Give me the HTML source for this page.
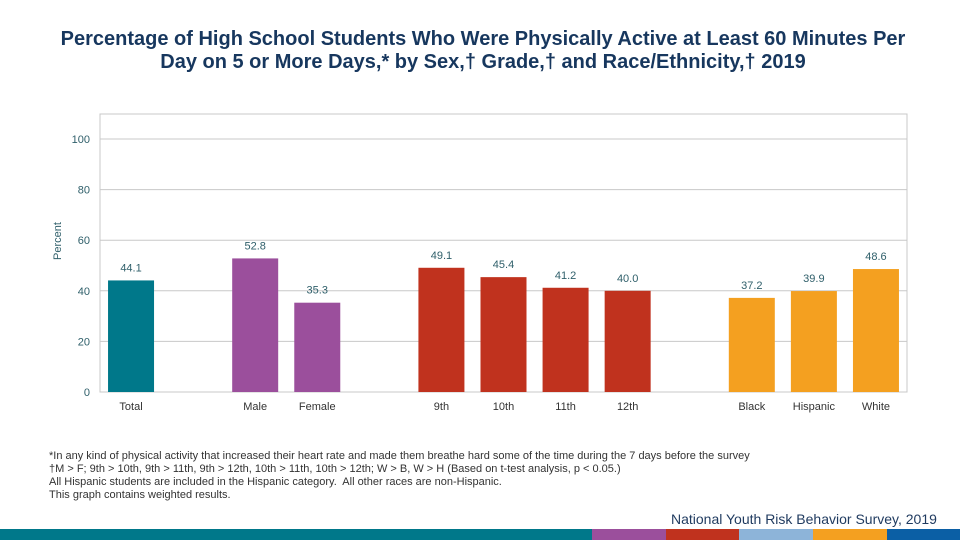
<!DOCTYPE html>
<html><head><meta charset="utf-8"><style>
body{margin:0;background:#fff;font-family:"Liberation Sans",sans-serif;}
#wrap{position:relative;width:960px;height:540px;overflow:hidden;}
.title{position:absolute;left:0;top:28px;width:966px;text-align:center;font-size:20px;font-weight:bold;line-height:23px;color:#17375e;}
.foot{position:absolute;left:49px;top:450px;font-size:11px;line-height:13px;color:#333;letter-spacing:0px;}
.src{position:absolute;left:671px;top:511px;font-size:14px;color:#1f3a5f;}
</style></head><body><div id="wrap">
<div class="title">Percentage of High School Students Who Were Physically Active at Least 60 Minutes Per<br>Day on 5 or More Days,* by Sex,† Grade,† and Race/Ethnicity,† 2019</div>
<svg id="chart" width="960" height="540" style="position:absolute;left:0;top:0"></svg>
<div class="foot">*In any kind of physical activity that increased their heart rate and made them breathe hard some of the time during the 7 days before the survey<br>†M &gt; F; 9th &gt; 10th, 9th &gt; 11th, 9th &gt; 12th, 10th &gt; 11th, 10th &gt; 12th; W &gt; B, W &gt; H (Based on t-test analysis, p &lt; 0.05.)<br>All Hispanic students are included in the Hispanic category.&nbsp; All other races are non-Hispanic.<br>This graph contains weighted results.</div>
<div class="src">National Youth Risk Behavior Survey, 2019</div>
</div>
<script>
const categories=["Total","","Male","Female","","9th","10th","11th","12th","","Black","Hispanic","White"];
const values=[44.1,null,52.8,35.3,null,49.1,45.4,41.2,40.0,null,37.2,39.9,48.6];
const colors=["#00788a","","#9b4f9c","#9b4f9c","","#c0321e","#c0321e","#c0321e","#c0321e","","#f4a020","#f4a020","#f4a020"];
const yTicks=[0,20,40,60,80,100];
const NS="http://www.w3.org/2000/svg";
const svg=document.getElementById('chart');
const L=100,R=907,T=114,B=392;
const y=v=>B-v*(B-139)/100;
const slot=(R-L)/categories.length;
const xc=i=>L+slot*(i+0.5);
function mk(t,a){const e=document.createElementNS(NS,t);for(const k in a)e.setAttribute(k,a[k]);svg.appendChild(e);return e;}
let f=mk('rect',{x:L,y:T,width:R-L,height:B-T,fill:'none',stroke:'#c8c8c8'});


yTicks.forEach(t=>{
 const g=mk('line',{x1:L,x2:R,y1:y(t),y2:y(t),stroke:'#c8c8c8'});
 
 
 const tx=mk('text',{x:90,y:y(t)+4,'text-anchor':'end','font-size':11,fill:'#2f5f6a','font-family':'Liberation Sans'});
 tx.textContent=t;
 
 
});
const yt=mk('text',{x:0,y:0,transform:'translate(61,241) rotate(-90)','text-anchor':'middle','font-size':11,fill:'#2f5f6a','font-family':'Liberation Sans'});
yt.textContent='Percent';


categories.forEach((c,i)=>{
 if(values[i]==null)return;
 const bw=46;
 const r=mk('rect',{x:xc(i)-bw/2,y:y(values[i]),width:bw,height:B-y(values[i]),fill:colors[i]});
 
 
 const v=mk('text',{x:xc(i),y:y(values[i])-9,'text-anchor':'middle','font-size':11,fill:'#2f5f6a','font-family':'Liberation Sans'});
 v.textContent=values[i].toFixed(1);
 
 
 const l=mk('text',{x:xc(i),y:410,'text-anchor':'middle','font-size':11,fill:'#333','font-family':'Liberation Sans'});
 l.textContent=c;
 
 
});
[[0,592,'#00788a'],[592,666,'#9b4f9c'],[666,739,'#c0321e'],[739,813,'#8db4d9'],[813,887,'#f4a020'],[887,960,'#0b5fa5']].forEach(s=>{
 const r=mk('rect',{x:s[0],y:529,width:s[1]-s[0],height:11,fill:s[2]});
 
 
});
</script></body></html>
